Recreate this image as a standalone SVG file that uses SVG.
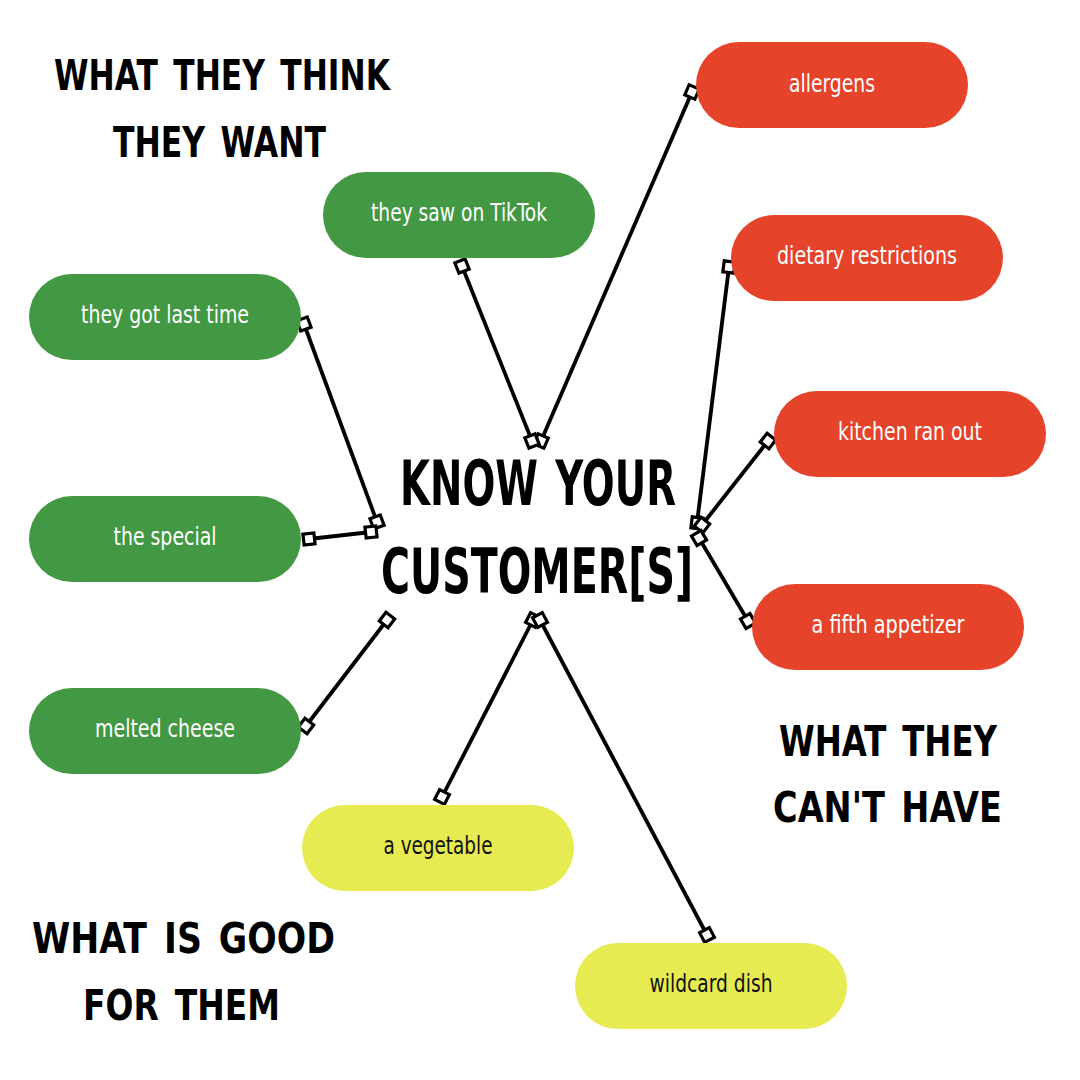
<svg xmlns="http://www.w3.org/2000/svg" width="1080" height="1080" viewBox="0 0 1080 1080">
<style>
.pill{stroke:none}
.g{fill:#439843}
.r{fill:#E5432A}
.y{fill:#E6EB52}
.lbl{font-family:"Liberation Sans Narrow","DejaVu Sans Condensed","Liberation Sans",sans-serif;font-size:24px;text-anchor:middle}
.lw{fill:#ffffff}
.lb{fill:#111111}
.hd{font-family:"DejaVu Sans","Liberation Sans",sans-serif;font-weight:bold;fill:#000000;word-spacing:6px}
.conn line{stroke:#000000;stroke-width:3.8;marker-start:url(#sq);marker-end:url(#sq)}
</style>
<defs>
<marker id="sq" viewBox="-9 -9 18 18" refX="0" refY="0" markerWidth="18" markerHeight="18" markerUnits="userSpaceOnUse" orient="auto">
<rect x="-5.5" y="-5.5" width="11" height="11" fill="#ffffff" stroke="#000000" stroke-width="3.2"/>
</marker>
</defs>
<rect width="1080" height="1080" fill="#ffffff"/>

<g id="headings">
<text class="hd" x="54" y="90" font-size="42" textLength="336" lengthAdjust="spacingAndGlyphs">WHAT THEY THINK</text>
<text class="hd" x="113" y="157" font-size="42" textLength="213" lengthAdjust="spacingAndGlyphs">THEY WANT</text>
<text class="hd" x="779" y="756" font-size="42" textLength="218" lengthAdjust="spacingAndGlyphs">WHAT THEY</text>
<text class="hd" x="773" y="822" font-size="42" textLength="229" lengthAdjust="spacingAndGlyphs">CAN'T HAVE</text>
<text class="hd" x="32" y="953" font-size="42" textLength="303" lengthAdjust="spacingAndGlyphs">WHAT IS GOOD</text>
<text class="hd" x="83" y="1020" font-size="42" textLength="197" lengthAdjust="spacingAndGlyphs">FOR THEM</text>
</g>

<g id="connectors" class="conn">
<line x1="692" y1="92" x2="541" y2="441"/>
<line x1="462" y1="266" x2="532" y2="441"/>
<line x1="304" y1="324" x2="377" y2="522"/>
<line x1="309" y1="539" x2="371" y2="532"/>
<line x1="387" y1="620" x2="306" y2="726"/>
<line x1="442" y1="797" x2="533" y2="620"/>
<line x1="707" y1="935" x2="540" y2="620"/>
<line x1="729" y1="267" x2="697" y2="523"/>
<line x1="768" y1="441" x2="702" y2="525"/>
<line x1="699" y1="538" x2="748" y2="621"/>
</g>

<g id="center">
<text class="hd" x="400" y="505" font-size="63" textLength="276" lengthAdjust="spacingAndGlyphs">KNOW YOUR</text>
<text class="hd" x="381" y="593" font-size="63" textLength="312" lengthAdjust="spacingAndGlyphs">CUSTOMER[S]</text>
</g>

<g id="n-allergens"><rect class="pill r" x="696" y="42" width="272" height="86" rx="43"/><text class="lbl lw" x="832" y="92" textLength="86" lengthAdjust="spacingAndGlyphs">allergens</text></g>
<g id="n-tiktok"><rect class="pill g" x="323" y="172" width="272" height="86" rx="43"/><text class="lbl lw" x="459" y="221" textLength="176" lengthAdjust="spacingAndGlyphs">they saw on TikTok</text></g>
<g id="n-dietary"><rect class="pill r" x="731" y="215" width="272" height="86" rx="43"/><text class="lbl lw" x="867" y="264" textLength="180" lengthAdjust="spacingAndGlyphs">dietary restrictions</text></g>
<g id="n-lasttime"><rect class="pill g" x="29" y="274" width="272" height="86" rx="43"/><text class="lbl lw" x="165" y="323" textLength="168" lengthAdjust="spacingAndGlyphs">they got last time</text></g>
<g id="n-kitchen"><rect class="pill r" x="774" y="391" width="272" height="86" rx="43"/><text class="lbl lw" x="910" y="440" textLength="144" lengthAdjust="spacingAndGlyphs">kitchen ran out</text></g>
<g id="n-special"><rect class="pill g" x="29" y="496" width="272" height="86" rx="43"/><text class="lbl lw" x="165" y="545" textLength="103" lengthAdjust="spacingAndGlyphs">the special</text></g>
<g id="n-fifth"><rect class="pill r" x="752" y="584" width="272" height="86" rx="43"/><text class="lbl lw" x="888" y="633" textLength="153" lengthAdjust="spacingAndGlyphs">a fifth appetizer</text></g>
<g id="n-cheese"><rect class="pill g" x="29" y="688" width="272" height="86" rx="43"/><text class="lbl lw" x="165" y="737" textLength="140" lengthAdjust="spacingAndGlyphs">melted cheese</text></g>
<g id="n-vegetable"><rect class="pill y" x="302" y="805" width="272" height="86" rx="43"/><text class="lbl lb" x="438" y="854" textLength="109" lengthAdjust="spacingAndGlyphs">a vegetable</text></g>
<g id="n-wildcard"><rect class="pill y" x="575" y="943" width="272" height="86" rx="43"/><text class="lbl lb" x="711" y="992" textLength="123" lengthAdjust="spacingAndGlyphs">wildcard dish</text></g>
</svg>
